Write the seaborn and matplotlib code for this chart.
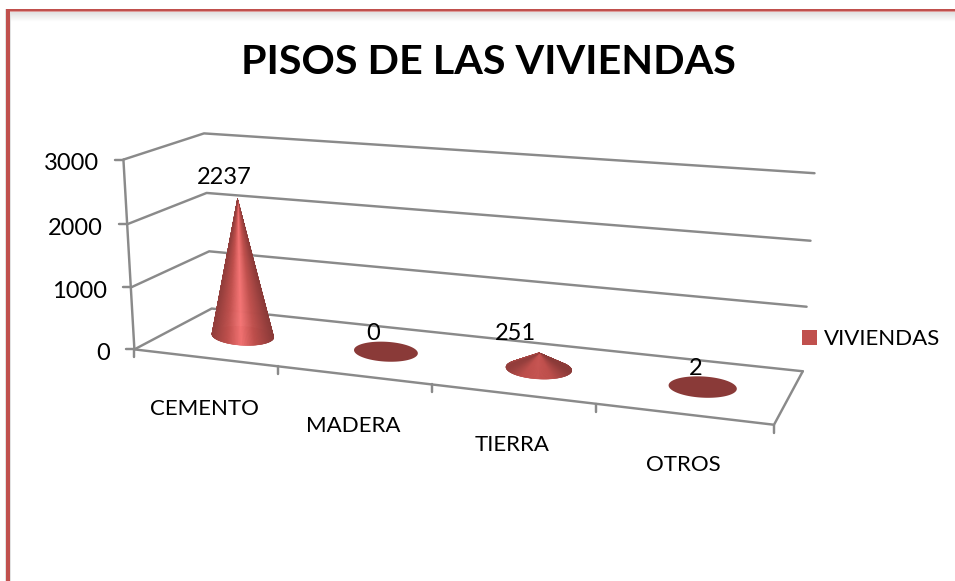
import numpy as np
import matplotlib
matplotlib.use('Agg')
import matplotlib.pyplot as plt
import seaborn as sns
from matplotlib.collections import PolyCollection
from matplotlib.colors import to_rgb
from matplotlib.patches import Patch, Polygon, Rectangle

# Data
categories = ['CEMENTO', 'MADERA', 'TIERRA', 'OTROS']
viviendas = [2237, 0, 251, 2]
y_ticks = [0, 1000, 2000, 3000]
title = 'PISOS DE LAS VIVIENDAS'
series_name = 'VIVIENDAS'

RED = '#c0504d'
DARK = '#8a3a38'
BRIGHT = '#f57474'
GRID = '#8a8a8a'

sns.set_theme(style='white')
plt.rcParams['font.family'] = ['Lato', 'DejaVu Sans']

fig = plt.figure(figsize=(9.55, 5.81), dpi=100)
ax = fig.add_axes([0, 0, 1, 1])
ax.set_xlim(0, 955)
ax.set_ylim(581, 0)
ax.set_axis_off()

# Fit a camera for the 3D box: (depth along categories, depth into chart, value) -> pixels
box = [
    (0, 0, 0, 134.3, 349.5), (0, 0, 1000, 131, 287), (0, 0, 2000, 127.5, 224), (0, 0, 3000, 123, 160),
    (0, 1, 0, 211.5, 308.7), (0, 1, 1000, 209.3, 251.7), (0, 1, 2000, 206.7, 192.7), (0, 1, 3000, 204, 133.3),
    (1, 1, 0, 802.7, 371), (1, 1, 1000, 806.7, 306.7), (1, 1, 2000, 810.5, 240.7), (1, 1, 3000, 814.5, 173.3),
    (1, 0, 0, 774, 425),
]
rows, rhs = [], []
for u, t, v, px, py in box:
    z = v / 3000
    rows.append([u, t, z, 1, 0, 0, 0, 0, -px * u, -px * t, -px * z])
    rows.append([0, 0, 0, 0, u, t, z, 1, -py * u, -py * t, -py * z])
    rhs += [px, py]
cam = np.append(np.linalg.lstsq(np.array(rows, float), np.array(rhs, float), rcond=None)[0], 1).reshape(3, 4)


def project(u, t, v):
    x, y, w = cam @ np.array([u, t, v / 3000, 1])
    return x / w, y / w


def line(a, b, extra=None):
    pts = [a, b] if extra is None else [a, b, extra]
    sns.lineplot(x=[p[0] for p in pts], y=[p[1] for p in pts], ax=ax, color=GRID, lw=1.75,
                 sort=False, estimator=None, legend=False, zorder=2)


# Walls, floor and ticks
for v in y_ticks:
    line(project(0, 0, v), project(0, 1, v), project(1, 1, v))
    x0, y0 = project(0, 0, v)
    line((x0 - 8, y0), (x0, y0))
    ax.text(x0 - 24, y0 + 4, str(v), ha='right', va='center', fontsize=17, color='black')
line(project(0, 0, 0), project(0, 0, y_ticks[-1]))
line(project(0, 0, 0), project(1, 0, 0), project(1, 1, 0))
for i in range(len(categories) + 1):
    x0, y0 = project(i / len(categories), 0, 0)
    line((x0, y0), (x0, y0 + 8))


def shade(s, peak):
    # s runs from -1 to 1 around the cone, lit just left of the middle
    base, dark = np.array(to_rgb(RED)), np.array(to_rgb(DARK))
    top = base + (np.array(to_rgb(BRIGHT)) - base) * peak
    d = abs(s + 0.05)
    if d < 0.45:
        return top + (base - top) * d / 0.45
    return base + (dark - base) * (d - 0.45) / 0.6


# Cones
radius_u = 0.056
label_dx = [-13, -13, -24, -7]
label_dy = [-21, -18, -19, -18]
for i, (name, val) in enumerate(zip(categories, viviendas)):
    u = (i + 0.5) / len(categories)
    cx, cy = project(u, 0.5, 0)
    tx, ty = project(u, 0.5, val)
    lx, ly = project(u - radius_u, 0.5, 0)
    rx, ry = project(u + radius_u, 0.5, 0)
    # the perspective is too strong on the cone width, so damp it a bit
    a = 31 + ((rx - lx) / 2 - 31) * 0.45
    b = a * 0.31
    tilt = np.arctan2(ry - ly, rx - lx) * 0.5
    height = cy - ty

    phi = np.linspace(0, 2 * np.pi, 200)
    ex = cx + a * np.cos(phi) * np.cos(tilt) - b * np.sin(phi) * np.sin(tilt)
    ey = cy + a * np.cos(phi) * np.sin(tilt) + b * np.sin(phi) * np.cos(tilt)
    ax.add_patch(Polygon(np.c_[ex, ey], closed=True, fc=DARK, ec='none', zorder=3))

    if height > b:
        start = np.arcsin(b / height)
        phi = np.linspace(-start, np.pi + start, 160)
        ex = cx + a * np.cos(phi) * np.cos(tilt) - b * np.sin(phi) * np.sin(tilt)
        ey = cy + a * np.cos(phi) * np.sin(tilt) + b * np.sin(phi) * np.cos(tilt)
        peak = min(1, height / (3 * a))
        polys, cols = [], []
        for k in range(len(phi) - 1):
            polys.append([(tx, ty), (ex[k], ey[k]), (ex[k + 1], ey[k + 1])])
            cols.append(shade(np.cos((phi[k] + phi[k + 1]) / 2), peak))
        ax.add_collection(PolyCollection(polys, facecolors=cols, edgecolors=cols, linewidths=0.3, zorder=4))

    ax.text(tx + label_dx[i], ty + label_dy[i], str(val), ha='center', va='center', fontsize=17,
            color='black', zorder=5)

    mx, my = project((i + 0.5) / len(categories), 0, 0)
    ax.text(mx, my + 51, name, ha='center', va='center', fontsize=16, color='black')

ax.text(488, 62, title, ha='center', va='center', fontsize=29.7, fontweight='bold', color='black')

ax.legend(handles=[Patch(fc=RED, ec='none', label=series_name)], loc='center left', frameon=False,
          bbox_to_anchor=(802, 339), bbox_transform=ax.transData, fontsize=16, handlelength=0.68,
          handleheight=0.68, handletextpad=0.3, borderpad=0, borderaxespad=0, labelcolor='black')

# Red frame with its soft shadow
for k in range(11):
    g = 0.87 + 0.0125 * k
    ax.add_patch(Rectangle((9, 11 + k), 946, 1, fc=(g, g, g), ec='none', zorder=1))
ax.add_patch(Rectangle((4.5, 9), 6.5, 572, fc='#e2e2e2', ec='none', zorder=1))
ax.add_patch(Rectangle((6.3, 9), 3.4, 572, fc=RED, ec='none', zorder=6))
ax.add_patch(Rectangle((6.3, 9), 948.7, 1.6, fc=RED, ec='none', zorder=6))
ax.add_patch(Rectangle((9.7, 10.6), 945.3, 0.9, fc='#dd9a98', ec='none', zorder=6))

fig.savefig('out.png', dpi=100)
